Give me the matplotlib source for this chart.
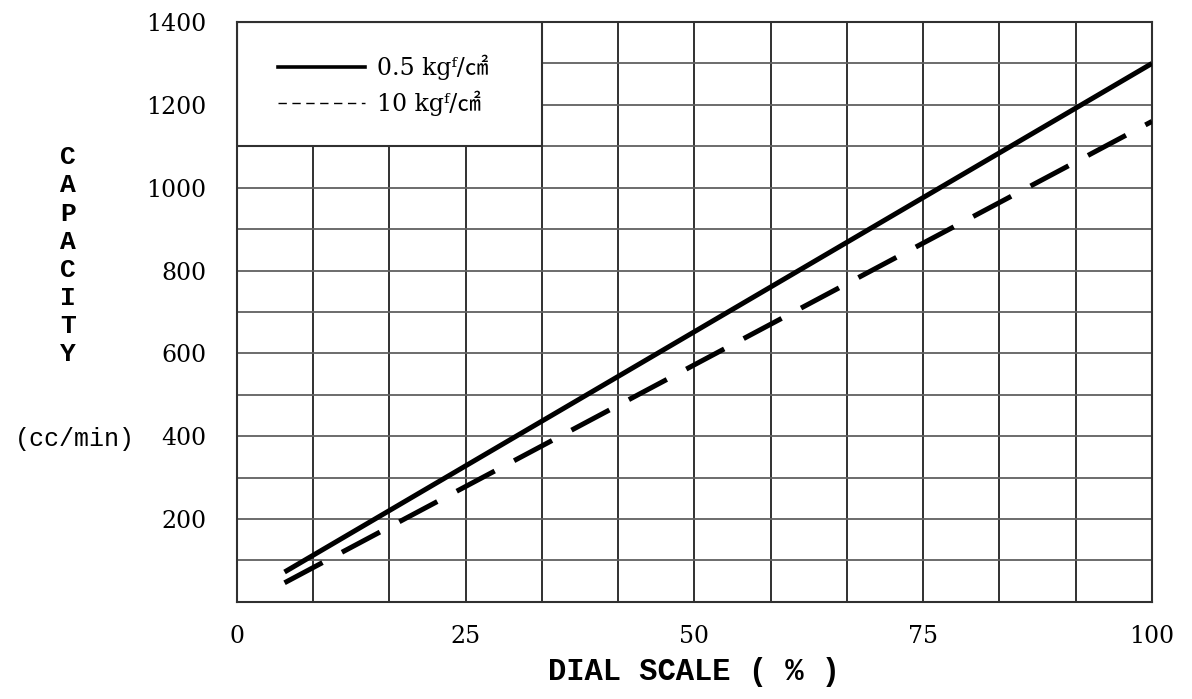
import numpy as np
import matplotlib
matplotlib.use('Agg')
import matplotlib.pyplot as plt
from matplotlib.lines import Line2D
from matplotlib.patches import Rectangle

# dial scale (%) vs capacity (cc/min)
dial = [5.2, 100]
cap_low = [72, 1300]     # 0.5 kgf/cm2
cap_high = [46, 1160]    # 10 kgf/cm2

x_labels = [0, 25, 50, 75, 100]
y_labels = [200, 400, 600, 800, 1000, 1200, 1400]

label_low = '0.5 kgᶠ/㎠'
label_high = '10 kgᶠ/㎠'

legend_fonts = ['DejaVu Serif', 'DejaVu Sans', 'Noto Sans CJK JP']

fig = plt.figure(figsize=(11.92, 6.99), dpi=100)
ax = fig.add_axes([0.1988, 0.139, 0.7676, 0.8295])

ax.plot(dial, cap_low, color='black', lw=3.6, solid_capstyle='butt', zorder=3)
ax.plot(dial, cap_high, color='black', lw=3.6, dashes=(8.6, 4.4),
        dash_capstyle='butt', zorder=3)

ax.set_xlim(0, 100)
ax.set_ylim(0, 1400)

# grid: 12 columns, rows every 100
ax.set_xticks(np.linspace(0, 100, 13), minor=True)
ax.set_yticks(np.arange(0, 1401, 100), minor=True)
ax.set_xticks(x_labels)
ax.set_yticks(y_labels)
ax.set_xticklabels([str(v) for v in x_labels], family='DejaVu Serif', fontsize=17)
ax.set_yticklabels([str(v) for v in y_labels], family='DejaVu Serif', fontsize=17)
ax.tick_params(which='both', length=0)
ax.tick_params(axis='x', pad=17)
ax.tick_params(axis='y', pad=22)
ax.set_axisbelow(True)
ax.grid(False)
ax.xaxis.grid(True, which='both', color='#202020', lw=1.3)
ax.yaxis.grid(True, which='both', color='#606060', lw=1.3)
for s in ax.spines.values():
    s.set_color('#303030')
    s.set_linewidth(1.5)

# legend box over the top-left cells
box = Rectangle((0, 11 / 14), 4 / 12, 3 / 14, transform=ax.transAxes,
                facecolor='white', edgecolor='#303030', lw=1.5, zorder=1)
ax.add_patch(box)
handles = [Line2D([], [], color='black', lw=2.6),
           Line2D([], [], color='black', lw=1.0, dashes=(6, 4))]
leg = ax.legend(handles, [label_low, label_high], loc='center',
                bbox_to_anchor=(0.16, 0.89), frameon=False,
                handlelength=3.7, handletextpad=0.5, labelspacing=0.45,
                prop={'family': legend_fonts, 'size': 17})
leg.set_zorder(4)

ax.set_xlabel('DIAL SCALE ( % )', family='Liberation Mono', weight='bold',
              fontsize=22, labelpad=6)

fig.text(0.057, 0.634, '\n'.join('CAPACITY'), family='Liberation Mono',
         weight='bold', fontsize=19, ha='center', va='center', linespacing=1.22)
fig.text(0.063, 0.372, '(cc/min)', family='Liberation Mono', fontsize=18,
         ha='center', va='center')

fig.savefig('out.png', dpi=100)
